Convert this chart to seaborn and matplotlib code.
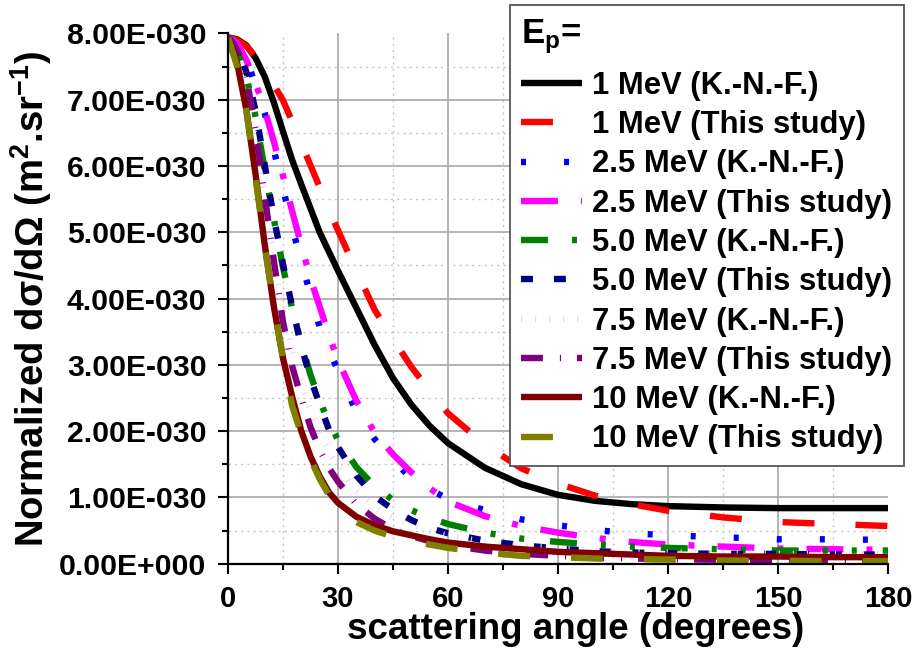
import numpy as np
import matplotlib
matplotlib.use("Agg")
import matplotlib.pyplot as plt
from matplotlib.ticker import FixedLocator, FuncFormatter
from matplotlib.font_manager import FontProperties
import seaborn as sns

# Scattering angle grid (degrees)
angles = [0, 2.5, 5, 7.5, 10, 12.5, 15, 17.5, 20, 22.5, 25, 27.5, 30, 35, 40, 45,
          50, 55, 60, 70, 80, 90, 100, 110, 120, 135, 150, 165, 180]

# Normalized differential cross sections, in units of 1e-30 m^2/sr
knf_1 = [7.94, 7.91, 7.82, 7.63, 7.35, 6.96, 6.52, 6.09, 5.72, 5.36, 5.00, 4.71, 4.42, 3.86, 3.30, 2.80,
         2.40, 2.08, 1.82, 1.45, 1.20, 1.04, 0.95, 0.90, 0.87, 0.85, 0.84, 0.84, 0.84]
ts_1 = [7.94, 7.90, 7.81, 7.65, 7.44, 7.22, 6.99, 6.67, 6.34, 6.01, 5.68, 5.34, 5.03, 4.42, 3.83, 3.39,
        2.97, 2.61, 2.27, 1.80, 1.44, 1.21, 1.03, 0.90, 0.80, 0.70, 0.63, 0.60, 0.57]
knf_25 = [7.94, 7.86, 7.62, 7.22, 6.80, 6.24, 5.66, 5.08, 4.55, 4.06, 3.57, 3.23, 2.91, 2.29, 1.88, 1.56,
          1.29, 1.12, 0.98, 0.81, 0.67, 0.58, 0.51, 0.46, 0.43, 0.40, 0.37, 0.37, 0.36]
ts_25 = [7.94, 7.85, 7.60, 7.25, 6.85, 6.37, 5.85, 5.32, 4.80, 4.30, 3.88, 3.45, 3.07, 2.46, 1.98, 1.65,
         1.38, 1.14, 0.94, 0.72, 0.57, 0.47, 0.39, 0.33, 0.29, 0.26, 0.23, 0.22, 0.21]
knf_5 = [7.94, 7.75, 7.35, 6.75, 5.95, 5.20, 4.47, 3.85, 3.32, 2.85, 2.46, 2.13, 1.87, 1.46, 1.17, 0.96,
         0.81, 0.69, 0.60, 0.47, 0.38, 0.33, 0.29, 0.26, 0.24, 0.22, 0.20, 0.20, 0.20]
ts_5 = [7.94, 7.78, 7.42, 6.84, 6.02, 5.22, 4.52, 3.88, 3.28, 2.80, 2.40, 2.03, 1.76, 1.33, 1.02, 0.82,
        0.66, 0.54, 0.46, 0.35, 0.28, 0.23, 0.19, 0.17, 0.16, 0.15, 0.15, 0.14, 0.14]
knf_75 = [7.94, 7.70, 7.15, 6.35, 5.45, 4.60, 3.85, 3.25, 2.75, 2.32, 1.98, 1.70, 1.46, 1.10, 0.86, 0.70,
          0.58, 0.49, 0.42, 0.33, 0.27, 0.23, 0.20, 0.18, 0.17, 0.16, 0.15, 0.15, 0.15]
ts_75 = [7.94, 7.75, 7.35, 6.55, 5.55, 4.57, 3.65, 2.98, 2.50, 2.06, 1.72, 1.45, 1.24, 0.90, 0.68, 0.52,
         0.42, 0.34, 0.28, 0.20, 0.15, 0.12, 0.09, 0.08, 0.07, 0.06, 0.06, 0.05, 0.05]
knf_10 = [7.94, 7.55, 6.85, 5.88, 4.82, 3.88, 3.10, 2.52, 2.00, 1.62, 1.32, 1.08, 0.92, 0.71, 0.58, 0.49,
          0.43, 0.37, 0.32, 0.26, 0.22, 0.18, 0.16, 0.14, 0.12, 0.11, 0.11, 0.10, 0.10]
ts_10 = [7.94, 7.50, 6.85, 5.83, 4.80, 3.90, 3.10, 2.38, 1.95, 1.58, 1.28, 1.04, 0.85, 0.63, 0.50, 0.41,
         0.34, 0.29, 0.24, 0.17, 0.12, 0.10, 0.08, 0.07, 0.065, 0.05, 0.045, 0.04, 0.04]

labels = ["1 MeV (K.-N.-F.)", "1 MeV (This study)",
          "2.5 MeV (K.-N.-F.)", "2.5 MeV (This study)",
          "5.0 MeV (K.-N.-F.)", "5.0 MeV (This study)",
          "7.5 MeV (K.-N.-F.)", "7.5 MeV (This study)",
          "10 MeV (K.-N.-F.)", "10 MeV (This study)"]
series = [knf_1, ts_1, knf_25, ts_25, knf_5, ts_5, knf_75, ts_75, knf_10, ts_10]
colors = ["#000000", "#ff0000", "#0000ff", "#ff00ff", "#008000",
          "#000080", "#e2d4ff", "#800080", "#800000", "#808000"]
# dash patterns in points (None = solid)
dash_styles = [None, (23, 29.5), (3.6, 27.4), (26.6, 16.6, 4.3, 16.6),
               (19.4, 17.3, 3.6, 17.3, 3.6, 18.7), (8.6, 15.1), (0.8, 9.3),
               (15.8, 12.2, 0.8, 11.5), None, (23, 29.5)]

# axis ticks
x_major = [0, 30, 60, 90, 120, 150, 180]
x_minor = [15, 45, 75, 105, 135, 165]
y_major = [0, 1, 2, 3, 4, 5, 6, 7, 8]
y_minor = [0.5, 1.5, 2.5, 3.5, 4.5, 5.5, 6.5, 7.5]

plt.rcParams["font.family"] = ["Liberation Sans", "DejaVu Sans"]
plt.rcParams["font.weight"] = "bold"
plt.rcParams["mathtext.fontset"] = "custom"
plt.rcParams["mathtext.rm"] = "Liberation Sans:bold"
plt.rcParams["mathtext.bf"] = "Liberation Sans:bold"
plt.rcParams["mathtext.it"] = "Liberation Sans:bold"
plt.rcParams["lines.scale_dashes"] = False
plt.rcParams["lines.solid_capstyle"] = "butt"

fig = plt.figure(figsize=(9.14, 6.58), dpi=100)
ax = fig.add_axes([228 / 914, 1 - 563.8 / 658, 660 / 914, 530.4 / 658])

x = np.array(angles, dtype=float)
for vals, lab, col, dash in zip(series, labels, colors, dash_styles):
    y = np.array(vals) * 1e-30
    ls = "-" if dash is None else (0, dash)
    sns.lineplot(x=x, y=y, ax=ax, color=col, linewidth=4.6, linestyle=ls,
                 label=lab, legend=False, sort=False)

ax.set_xlim(0, 180)
ax.set_ylim(0, 8e-30)
ax.xaxis.set_major_locator(FixedLocator(x_major))
ax.xaxis.set_minor_locator(FixedLocator(x_minor))
ax.yaxis.set_major_locator(FixedLocator([v * 1e-30 for v in y_major]))
ax.yaxis.set_minor_locator(FixedLocator([v * 1e-30 for v in y_minor]))


def origin_sci(v, pos):
    if abs(v) < 1e-40:
        return "0.00E+000"
    mant, exp = f"{v:.2E}".split("E")
    return f"{mant}E{exp[0]}{exp[1:].zfill(3)}"


ax.yaxis.set_major_formatter(FuncFormatter(origin_sci))

ax.grid(which="major", color="#a8a8a8", linewidth=1.2, linestyle="-")
ax.grid(which="minor", color="#c4c4c4", linewidth=1.0, linestyle=(0, (1.5, 3)))
ax.set_axisbelow(True)

for side in ["top", "right"]:
    ax.spines[side].set_visible(False)
for side in ["left", "bottom"]:
    ax.spines[side].set_linewidth(1.6)
    ax.spines[side].set_color("black")

ax.tick_params(which="major", direction="out", length=7.5, width=1.5, pad=8)
ax.tick_params(which="minor", direction="out", length=4.5, width=1.5)
ax.tick_params(axis="x", labelsize=21)
ax.tick_params(axis="y", labelsize=21.7)
for t in ax.get_xticklabels() + ax.get_yticklabels():
    t.set_fontweight("bold")

ax.set_xlabel("scattering angle (degrees)", fontsize=26.5, fontweight="bold")
ax.xaxis.set_label_coords(0.526, -0.09)
ax.set_ylabel(r"Normalized d$\sigma$/d$\Omega$ (m$^{\mathbf{2}}$.sr$^{\mathbf{-1}}$)",
              fontsize=27.5, fontweight="bold")
ax.yaxis.set_label_coords(-0.263, 0.5)

# hide grid lines on the plot edges (x = 180, y = 8e-30)
fig.canvas.draw()
for tk in ax.xaxis.get_major_ticks():
    if abs(tk.get_loc() - 180) < 1e-6:
        tk.gridline.set_visible(False)
for tk in ax.yaxis.get_major_ticks():
    if abs(tk.get_loc() - 8e-30) < 1e-36:
        tk.gridline.set_visible(False)

leg_size = 22.3
handles = ax.get_lines()[:len(labels)]
leg = ax.legend(handles, labels, loc="upper right",
                bbox_to_anchor=(904 / 914, 1 - 5 / 658), bbox_transform=fig.transFigure,
                borderaxespad=0, frameon=True, fancybox=False, framealpha=1,
                edgecolor="#555555",
                prop=FontProperties(family="Liberation Sans", weight="bold", size=leg_size),
                title=r"E$_\mathbf{p}$=",
                title_fontproperties=FontProperties(family="Liberation Sans", weight="bold", size=25),
                alignment="left", handlelength=1.97, handletextpad=0.32,
                labelspacing=0.3, borderpad=0.38)
leg.get_frame().set_linewidth(1.3)
# extra room between the title and the first entry
leg._legend_box.sep = 11

fig.savefig("out.png", dpi=100)
